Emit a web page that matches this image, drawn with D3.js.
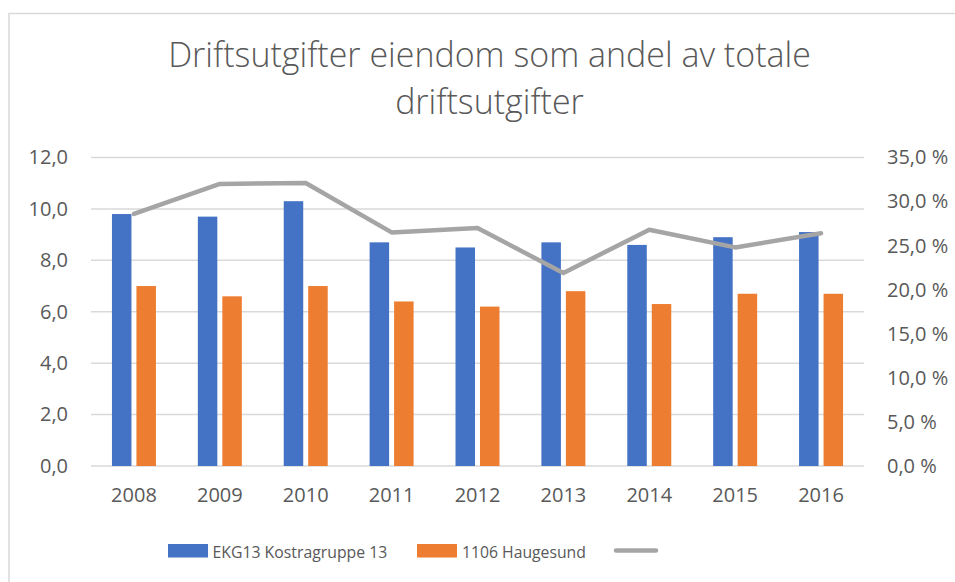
<!DOCTYPE html>
<html>
<head>
<meta charset="utf-8">
<script src="https://cdn.jsdelivr.net/npm/d3@7"></script>
<style>
  html, body { margin: 0; padding: 0; background: #fff; }
  svg { display: block; }
  text { font-family: "Open Sans", "Liberation Sans", sans-serif; fill: #595959; }
</style>
</head>
<body>
<svg id="chart" width="955" height="582"></svg>
<script>
const years = ["2008","2009","2010","2011","2012","2013","2014","2015","2016"];
const seriesNames = ["EKG13 Kostragruppe 13", "1106 Haugesund"];
const kostragruppe = [9.8, 9.7, 10.3, 8.7, 8.5, 8.7, 8.6, 8.9, 9.1];
const haugesund = [7.0, 6.6, 7.0, 6.4, 6.2, 6.8, 6.3, 6.7, 6.7];
const andel = [28.6, 32.0, 32.1, 26.5, 27.0, 21.9, 26.8, 24.8, 26.4];
const leftTicks = [0, 2, 4, 6, 8, 10, 12];
const rightTicks = [0, 5, 10, 15, 20, 25, 30, 35];
const titleLines = ["Driftsutgifter eiendom som andel av totale", "driftsutgifter"];

const colors = ["#4472C4", "#ED7D31"];
const lineColor = "#A5A5A5";
const gridColor = "#D9D9D9";

const svg = d3.select("#chart");
const W = 955, H = 582;
const plot = { left: 91, right: 864, top: 157.5, bottom: 466 };

const loc = d3.formatLocale({ decimal: ",", thousands: " ", grouping: [3], currency: ["", " kr"] });
const fmt1 = loc.format(".1f");

// Chart frame
svg.append("rect")
  .attr("x", 9).attr("y", 13.5)
  .attr("width", W + 10).attr("height", H + 10)
  .attr("fill", "#fff").attr("stroke", gridColor).attr("stroke-width", 1.5);

// Title
const title = svg.append("g");
titleLines.forEach((t, i) => {
  title.append("text")
    .attr("x", 489.5).attr("y", 66.5 + i * 47.5)
    .attr("text-anchor", "middle")
    .style("font-weight", 300)
    .style("font-size", "31px")
    .text(t);
});
{
  const first = title.select("text").node();
  const w = first.getComputedTextLength();
  const fs = 31 * 643 / w;
  title.selectAll("text").style("font-size", fs + "px");
}

// Scales
const x = d3.scaleBand().domain(years).range([plot.left, plot.right])
  .paddingInner(0.488).paddingOuter(0.244);
const x1 = d3.scaleBand().domain([0, 1]).range([0, x.bandwidth()]).paddingInner(0.204);
const yL = d3.scaleLinear().domain([0, 12]).range([plot.bottom, plot.top]);
const yR = d3.scaleLinear().domain([0, 35]).range([plot.bottom, plot.top]);

// Gridlines
svg.append("g").selectAll("line").data(leftTicks).join("line")
  .attr("x1", plot.left).attr("x2", plot.right)
  .attr("y1", d => yL(d)).attr("y2", d => yL(d))
  .attr("stroke", gridColor).attr("stroke-width", 1.5);

// Left axis
const axL = svg.append("g").attr("transform", `translate(${plot.left},0)`)
  .call(d3.axisLeft(yL).tickValues(leftTicks).tickFormat(fmt1).tickSize(0).tickPadding(23));
axL.select(".domain").remove();
axL.selectAll("text").style("font-size", "20px").attr("fill", "#595959")
  .style("font-family", "'Open Sans', sans-serif");

// Right axis
const axR = svg.append("g").attr("transform", `translate(${plot.right},0)`)
  .call(d3.axisRight(yR).tickValues(rightTicks).tickFormat(d => fmt1(d) + " %").tickSize(0).tickPadding(23));
axR.select(".domain").remove();
axR.selectAll("text").style("font-size", "20px").attr("fill", "#595959")
  .style("font-family", "'Open Sans', sans-serif");

// Bottom axis
const axB = svg.append("g").attr("transform", `translate(0,${plot.bottom})`)
  .call(d3.axisBottom(x).tickSize(0).tickPadding(22));
axB.select(".domain").remove();
axB.selectAll("text").style("font-size", "20px").attr("fill", "#595959")
  .style("font-family", "'Open Sans', sans-serif");

// Bars
const seriesData = [kostragruppe, haugesund];
seriesData.forEach((vals, si) => {
  svg.append("g").selectAll("rect").data(years).join("rect")
    .attr("x", (d) => x(d) + x1(si))
    .attr("width", x1.bandwidth())
    .attr("y", (d, i) => yL(vals[i]))
    .attr("height", (d, i) => yL(0) - yL(vals[i]))
    .attr("fill", colors[si]);
});

// Line
const line = d3.line()
  .x((d, i) => x(years[i]) + x.bandwidth() / 2)
  .y(d => yR(d));
svg.append("path").datum(andel)
  .attr("d", line)
  .attr("fill", "none")
  .attr("stroke", lineColor)
  .attr("stroke-width", 4.5)
  .attr("stroke-linejoin", "round")
  .attr("stroke-linecap", "round");

// Legend
const lg = svg.append("g");
const legendItems = [
  { type: "rect", color: colors[0], label: seriesNames[0], x: 168, tx: 212.5, tw: 175 },
  { type: "rect", color: colors[1], label: seriesNames[1], x: 417, tx: 462, tw: 124 },
  { type: "line", color: lineColor, label: "", x: 616 }
];
legendItems.forEach(it => {
  if (it.type === "rect") {
    lg.append("rect").attr("x", it.x).attr("y", 544).attr("width", 40).attr("height", 13.5).attr("fill", it.color);
    const t = lg.append("text").attr("x", it.tx).attr("y", 557.5)
      .style("font-size", "18px").text(it.label);
    const w = t.node().getComputedTextLength();
    t.style("font-size", Math.min(18, 18 * it.tw / w) + "px");
  } else {
    lg.append("line").attr("x1", it.x).attr("x2", it.x + 40).attr("y1", 550.5).attr("y2", 550.5)
      .attr("stroke", it.color).attr("stroke-width", 4.5).attr("stroke-linecap", "round");
  }
});
</script>
</body>
</html>
